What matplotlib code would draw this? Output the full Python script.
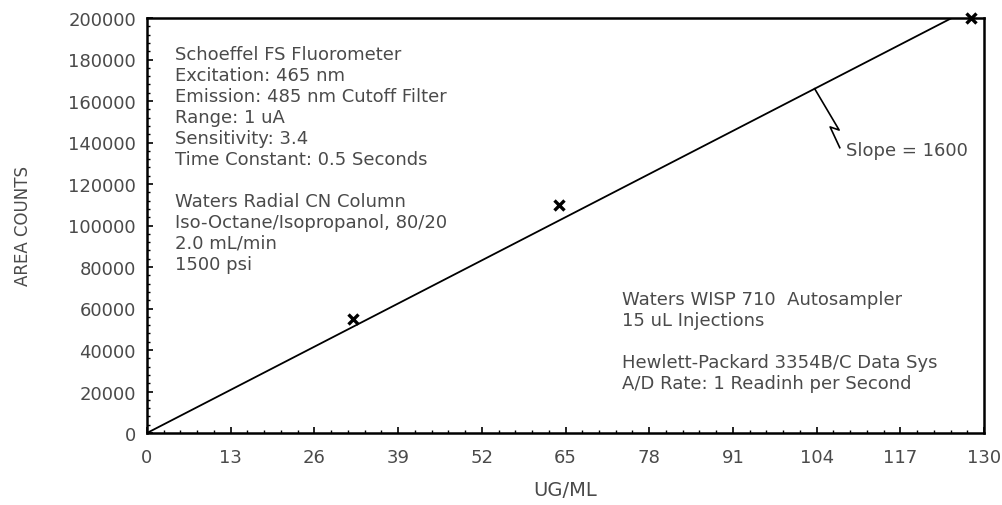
import numpy as np
import matplotlib
matplotlib.use("Agg")
import matplotlib.pyplot as plt
from matplotlib.ticker import MultipleLocator

# calibration points (ug/mL, area counts)
conc = [32, 64, 128]
area = [55000, 110000, 200000]
slope = 1600
fit_end = 125

xticks = [0, 13, 26, 39, 52, 65, 78, 91, 104, 117, 130]
yticks = [0, 20000, 40000, 60000, 80000, 100000, 120000, 140000, 160000, 180000, 200000]

info_left = ["Schoeffel FS Fluorometer", "Excitation: 465 nm",
             "Emission: 485 nm Cutoff Filter", "Range: 1 uA", "Sensitivity: 3.4",
             "Time Constant: 0.5 Seconds", "",
             "Waters Radial CN Column", "Iso-Octane/Isopropanol, 80/20",
             "2.0 mL/min", "1500 psi"]
info_right = ["Waters WISP 710  Autosampler", "15 uL Injections", "",
              "Hewlett-Packard 3354B/C Data Sys", "A/D Rate: 1 Readinh per Second"]

TXT = "#4a4a4a"
FS = 13
W, H = 1003, 506
fig = plt.figure(figsize=(W / 100, H / 100), dpi=100)
ax = fig.add_axes([147 / W, 1 - 434 / H, (984 - 147) / W, (434 - 19) / H])

xs = np.array([0, fit_end])
ax.plot(xs, slope * xs, color="black", lw=1.3)
ax.plot(conc, area, ls="none", marker="x", ms=6.5, mew=2.4, color="black",
        clip_on=False)

ax.set_xlim(0, 130)
ax.set_ylim(0, 200000)
ax.set_xticks(xticks)
ax.set_yticks(yticks)
ax.xaxis.set_minor_locator(MultipleLocator(13 / 5))
ax.yaxis.set_minor_locator(MultipleLocator(4000))
ax.tick_params(which="both", direction="in", color="black", labelcolor=TXT,
               labelsize=FS)
ax.tick_params(which="major", length=4, width=1.2)
ax.tick_params(which="minor", length=2.5, width=1.0)
ax.tick_params(axis="x", pad=11)
ax.tick_params(axis="y", pad=8)
for s in ax.spines.values():
    s.set_linewidth(1.8)

ax.set_xlabel("UG/ML", fontsize=14, color=TXT, labelpad=10)
ax.set_ylabel("AREA COUNTS", fontsize=12, color=TXT, labelpad=26)

def block(lines, x0, y0, dy=21):
    for i, s in enumerate(lines):
        if s:
            fig.text(x0 / W, 1 - (y0 + i * dy) / H, s, fontsize=FS, color=TXT,
                     ha="left", va="center")

block(info_left, 175, 55)
block(info_right, 622, 300)

# slope callout (zigzag leader)
lx, ly = 103.7, slope * 103.7
zig = [(lx, ly), (107.5, 146000), (106.1, 147500), (107.6, 137500)]
zx, zy = zip(*zig)
ax.plot(zx, zy, color="black", lw=1.2)
ax.text(108.6, 136500, "Slope = 1600", fontsize=FS, color=TXT,
        ha="left", va="center")

fig.savefig("out.png", dpi=100)
